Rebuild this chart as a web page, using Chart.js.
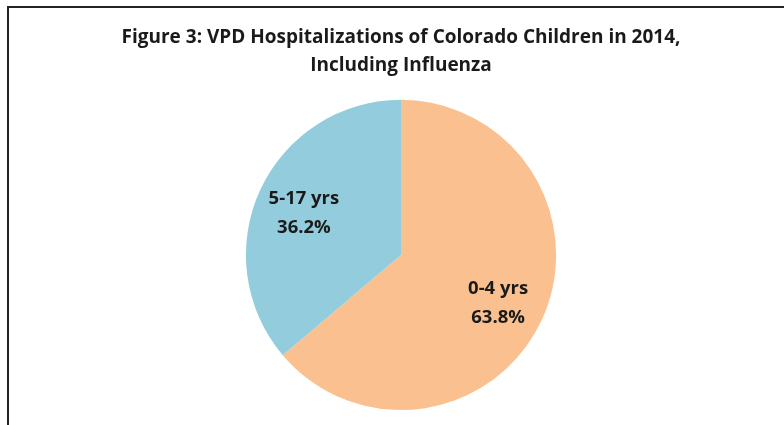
<!DOCTYPE html>
<html lang="en">
<head>
  <meta charset="UTF-8">
  <title>Figure 3: VPD Hospitalizations of Colorado Children in 2014</title>
  <script src="https://cdn.jsdelivr.net/npm/chart.js"></script>
  <style>
    body {
      margin: 0;
      background: #ffffff;
      font-family: "Open Sans", sans-serif;
    }

    #frame {
      position: absolute;
      left: 7px;
      top: 6px;
      width: 800px;
      height: 440px;
      border-top: 2px solid #222222;
      border-left: 2px solid #222222;
    }

    #chart-container {
      position: absolute;
      left: 0;
      top: 0;
      width: 784px;
      height: 425px;
    }
  </style>
</head>
<body>
  <div id="frame"></div>
  <div id="chart-container">
    <canvas id="pieChart"></canvas>
  </div>
  <script>
    const titleLines = ["Figure 3: VPD Hospitalizations of Colorado Children in 2014,", "Including Influenza"];
    const ageGroups = ["0-4 yrs", "5-17 yrs"];
    const percentages = [63.8, 36.2];
    const sliceColors = ["#FAC090", "#93CDDD"];

    // labels inside each slice: category on top, percent below
    const sliceLabels = {
      id: "sliceLabels",
      afterDatasetsDraw(chart) {
        const ctx = chart.ctx;
        const arcs = chart.getDatasetMeta(0).data;
        ctx.save();
        ctx.font = "bold 18.5px 'Open Sans'";
        ctx.fillStyle = "#1a1a1a";
        ctx.textAlign = "center";
        ctx.textBaseline = "middle";
        arcs.forEach((arc, i) => {
          const mid = (arc.startAngle + arc.endAngle) / 2;
          const r = arc.outerRadius * 0.69;
          const x = arc.x + Math.cos(mid) * r;
          const y = arc.y + Math.sin(mid) * r;
          ctx.fillText(ageGroups[i], x, y - 11);
          ctx.fillText(percentages[i].toFixed(1) + "%", x, y + 18);
        });
        ctx.restore();
      },
    };

    new Chart(document.getElementById("pieChart"), {
      type: "pie",
      data: {
        labels: ageGroups,
        datasets: [
          {
            data: percentages,
            backgroundColor: sliceColors,
            borderWidth: 0,
          },
        ],
      },
      options: {
        responsive: true,
        maintainAspectRatio: false,
        animation: false,
        layout: {
          padding: { left: 18, right: 0, top: 0, bottom: 15 },
        },
        plugins: {
          legend: { display: false },
          tooltip: { enabled: false },
          title: {
            display: true,
            text: titleLines,
            color: "#1a1a1a",
            font: { family: "'Open Sans'", size: 19, weight: "bold", lineHeight: 1.47 },
            padding: { top: 24, bottom: 20 },
          },
        },
      },
      plugins: [sliceLabels],
    });
  </script>
</body>
</html>
